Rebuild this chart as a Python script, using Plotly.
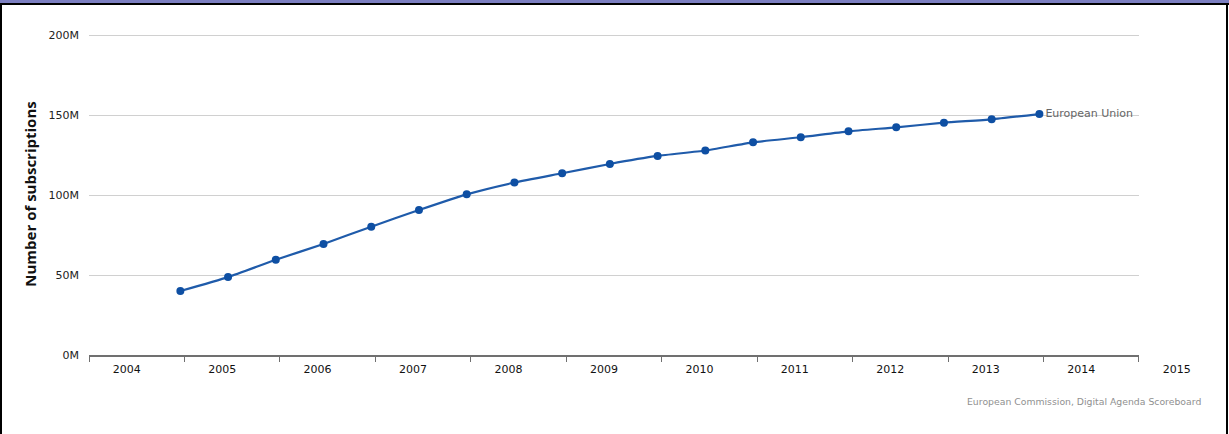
import plotly.graph_objects as go

# ---- data ----
periods = [2004.5, 2005.0, 2005.5, 2006.0, 2006.5, 2007.0, 2007.5, 2008.0, 2008.5,
           2009.0, 2009.5, 2010.0, 2010.5, 2011.0, 2011.5, 2012.0, 2012.5, 2013.0, 2013.5]
eu_subscriptions_m = [40.0, 48.7, 59.5, 69.4, 80.2, 90.6, 100.4, 107.8, 113.6,
                      119.4, 124.4, 127.8, 132.9, 136.1, 139.8, 142.3, 145.2, 147.3, 150.6]
series_name = "European Union"
year_labels = [2004, 2005, 2006, 2007, 2008, 2009, 2010, 2011, 2012, 2013, 2014, 2015]
y_tick_vals = [0, 50, 100, 150, 200]
y_tick_text = ["0M", "50M", "100M", "150M", "200M"]

# ---- geometry ----
W, H = 1229, 434
L, R, T, B = 89, 20, 33, 79
PW = W - L - R
PH = H - T - B
Y_PX_PER_M = 320 / 200
y_top = PH / Y_PX_PER_M
PX_PER_YEAR = 95.45
AXIS_PX = 1050
x_start = 2003.543
x_end = x_start + AXIS_PX / PX_PER_YEAR
tick_pos = [x_start + k for k in range(12)]
lab_start = 2004 - 37.7 / PX_PER_YEAR
lab_end = lab_start + PW / PX_PER_YEAR


def xp(px):
    return (px - L) / PW


def yp(py):
    return (H - B - py) / PH


LINE = "#1F5BAA"
FONT = "DejaVu Sans"

fig = go.Figure()
fig.add_trace(go.Scatter(
    x=periods, y=eu_subscriptions_m, name=series_name,
    mode="lines+markers+text",
    line=dict(color=LINE, width=2.2, shape="spline", smoothing=0.5),
    marker=dict(color="#0E4FA3", size=8),
    text=[""] * (len(periods) - 1) + [series_name],
    textposition="middle right",
    textfont=dict(family=FONT, size=11, color="#666666"),
    cliponaxis=False, showlegend=False,
))
fig.add_trace(go.Scatter(
    x=year_labels, y=[None] * len(year_labels), xaxis="x2", yaxis="y2",
    mode="markers", hoverinfo="skip", showlegend=False,
))

fig.update_layout(
    width=W, height=H,
    margin=dict(l=L, r=R, t=T, b=B, pad=0),
    paper_bgcolor="white", plot_bgcolor="rgba(0,0,0,0)",
    font=dict(family=FONT, size=11, color="#333333"),
    xaxis=dict(
        domain=[0, AXIS_PX / PW], range=[x_start, x_end],
        tickvals=tick_pos, showticklabels=False,
        ticks="outside", ticklen=5, tickwidth=1, tickcolor="#707070",
        showline=True, linecolor="#707070", linewidth=2,
        showgrid=False, zeroline=False, fixedrange=True,
    ),
    xaxis2=dict(
        domain=[0, 1], range=[lab_start, lab_end], anchor="y2",
        tickvals=year_labels, ticktext=[str(y) for y in year_labels],
        ticks="", showline=False, showgrid=False, zeroline=False,
        tickfont=dict(family=FONT, size=11, color="#111111"),
        ticklabelstandoff=6,
    ),
    yaxis=dict(
        range=[0, y_top], tickvals=y_tick_vals, ticktext=y_tick_text,
        showgrid=True, gridcolor="#D0D0D0", gridwidth=1,
        zeroline=False, showline=False, ticks="",
        ticklabelstandoff=9,
        tickfont=dict(family=FONT, size=11, color="#222222"),
        title=dict(text="Number of subscriptions", standoff=8,
                   font=dict(family="Open Sans", size=15, color="#111111", weight="bold")),
    ),
    yaxis2=dict(domain=[0, 1], range=[0, y_top], visible=False, showgrid=False),
    annotations=[dict(
        text="European Commission, Digital Agenda Scoreboard",
        xref="paper", yref="paper", x=xp(1203), y=yp(402),
        xanchor="right", yanchor="middle", showarrow=False,
        font=dict(family=FONT, size=9.3, color="#909090"),
    )],
    shapes=[
        dict(type="rect", xref="paper", yref="paper", x0=xp(0), x1=xp(W), y0=yp(0), y1=yp(3),
             fillcolor="#7C7FC1", line=dict(width=0), layer="above"),
        dict(type="rect", xref="paper", yref="paper", x0=xp(0), x1=xp(W), y0=yp(3), y1=yp(5),
             fillcolor="black", line=dict(width=0), layer="above"),
        dict(type="rect", xref="paper", yref="paper", x0=xp(0), x1=xp(2), y0=yp(3), y1=yp(H),
             fillcolor="black", line=dict(width=0), layer="above"),
        dict(type="rect", xref="paper", yref="paper", x0=xp(1226), x1=xp(1228), y0=yp(3), y1=yp(H),
             fillcolor="black", line=dict(width=0), layer="above"),
    ],
)

fig.write_html("out.html")
